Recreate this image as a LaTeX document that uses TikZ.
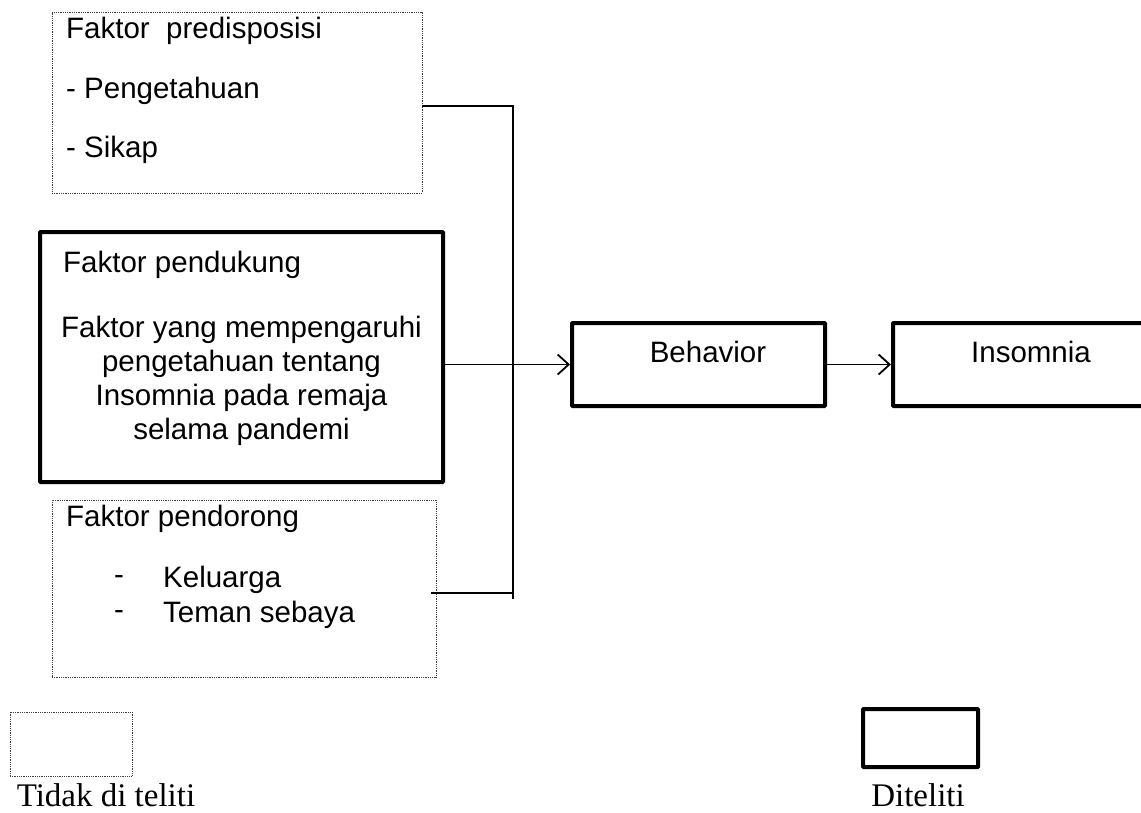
\documentclass[tikz,border=0pt]{standalone}
\usepackage{fontspec}
\setmainfont{Liberation Sans}
\newfontfamily\legendfont{Liberation Serif}
\usetikzlibrary{positioning, arrows.meta}

\begin{document}
\begin{tikzpicture}[x=1pt, y=-1pt,
        font=\fontsize{29.5}{34}\selectfont,
        notbox/.style={draw=black!75, densely dotted, line width=0.8pt, inner sep=0pt},
        yesbox/.style={draw, line width=4pt, inner sep=0pt, rounded corners=0.6pt},
        txt/.style={anchor=west, inner sep=0pt},
        keytxt/.style={font=\legendfont\fontsize{33}{36}\selectfont, inner sep=0pt, anchor=base},
        link/.style={line width=1.8pt},
        >={Straight Barb[length=11pt, width=20pt, line width=1.8pt]}]
        \useasboundingbox (0,0) rectangle (1141,812);
        % boxes
        \node[notbox, minimum width=370pt, minimum height=181pt] (pred) at (237,102.5) {};
        \node[yesbox, minimum width=403pt, minimum height=250pt] (pend) at (241.5,357) {};
        \node[notbox, minimum width=384pt, minimum height=177pt] (push) at (244,588.5) {};
        \node[yesbox, minimum width=253pt, minimum height=83pt] (beh) at (698.5,364.5) {};
        \node[yesbox, minimum width=250pt, minimum height=83pt] (ins) at (1018,364.5) {};
        % texts
        \node[txt] (pred-1) at (66,31) {Faktor~~predisposisi};
        \node[txt] (pred-2) at (66,91) {- Pengetahuan};
        \node[txt] (pred-3) at (66,150) {- Sikap};
        \node[txt] (pend-1) at (63,265) {Faktor pendukung};
        \node[align=center, inner sep=0pt] (pend-2) at (241.5,381) {Faktor yang mempengaruhi\\
            pengetahuan tentang\\ Insomnia pada remaja\\ selama pandemi};
        \node[txt] (push-1) at (66,519) {Faktor pendorong};
        \node[txt] (push-2) at (114,580) {-};
        \node[txt] (push-3) at (163,580) {Keluarga};
        \node[txt] (push-4) at (114,615) {-};
        \node[txt] (push-5) at (163,615) {Teman sebaya};
        \node[inner sep=0pt] (beh-t) at (708,352) {Behavior};
        \node[inner sep=0pt] (ins-t) at (1031,352) {Insomnia};
        % connectors
        \coordinate (j-top) at (513,106);
        \coordinate (j-bot) at (513,599);
        \draw[link] (pred.east |- j-top) -- (j-top) -- (j-bot);
        \draw[link] ([xshift=-5pt]push.east |- 0,593) -- (j-bot |- 0,593);
        \path[link, ->]
        (pend.east |- beh.west) edge (beh.west)
        (beh) edge (ins);
        % legend
        \node[notbox, minimum width=122pt, minimum height=64pt] (key-no) at (71,744) {};
        \node[yesbox, minimum width=115pt, minimum height=58pt] (key-yes) at (920.5,738) {};
        \node[keytxt] (key-no-t) at (106,806) {Tidak di teliti};
        \node[keytxt] (key-yes-t) at (918,806) {Diteliti};
\end{tikzpicture}
\end{document}
